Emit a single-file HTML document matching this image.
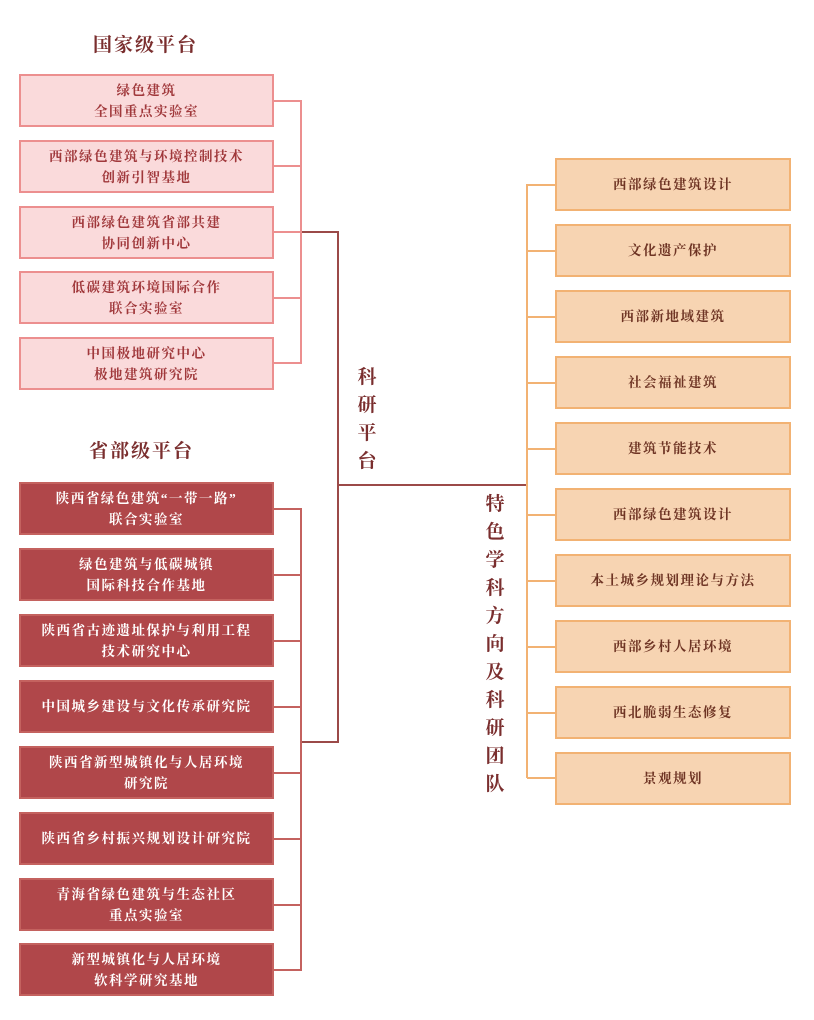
<!DOCTYPE html>
<html><head><meta charset="utf-8"><style>
body{margin:0;width:814px;height:1020px;background:#fff;position:relative;overflow:hidden;font-family:"Liberation Serif","Noto Serif CJK SC","Noto Sans CJK SC",serif;}
.b{position:absolute;box-sizing:border-box;display:flex;align-items:center;justify-content:center;text-align:center;font-size:13.5px;line-height:21px;letter-spacing:1.5px;font-weight:bold;}
.p{left:19px;width:255px;height:53px;background:#fadadb;border:2px solid #ec8f8f;color:#a0383b;}
.d{left:19px;width:255px;height:53px;background:#b0474a;border:2px solid #c4625f;color:#fff;}
.o{left:555px;width:236px;height:53px;background:#f7d4b2;border:2px solid #f2b273;color:#6e3424;}
.t{position:absolute;font-size:19px;font-weight:bold;color:#7a2e2e;letter-spacing:2px;}
.v{position:absolute;font-size:19px;font-weight:bold;color:#7a2e2e;width:24px;line-height:28px;text-align:center;}
.l{position:absolute;}
</style></head><body>
<div class="t" style="left:93px;top:30px">国家级平台</div>
<div class="t" style="left:89px;top:436px">省部级平台</div>

<!-- connectors -->
<div class="l" style="left:274px;top:100px;width:28px;height:2px;background:#ec8f8f"></div>
<div class="l" style="left:274px;top:165px;width:28px;height:2px;background:#ec8f8f"></div>
<div class="l" style="left:274px;top:231px;width:28px;height:2px;background:#ec8f8f"></div>
<div class="l" style="left:274px;top:297px;width:28px;height:2px;background:#ec8f8f"></div>
<div class="l" style="left:274px;top:362px;width:28px;height:2px;background:#ec8f8f"></div>
<div class="l" style="left:300px;top:100px;width:2px;height:264px;background:#ec8f8f"></div>
<div class="l" style="left:302px;top:231px;width:37px;height:2px;background:#9b4a48"></div>
<div class="l" style="left:337px;top:231px;width:2px;height:512px;background:#9b4a48"></div>
<div class="l" style="left:338px;top:484px;width:190px;height:2px;background:#9b4a48"></div>
<div class="l" style="left:302px;top:741px;width:37px;height:2px;background:#9b4a48"></div>

<div class="l" style="left:300px;top:508px;width:2px;height:462px;background:#c4625f"></div>
<div class="l" style="left:274px;top:508px;width:28px;height:2px;background:#c4625f"></div>
<div class="l" style="left:274px;top:574px;width:28px;height:2px;background:#c4625f"></div>
<div class="l" style="left:274px;top:640px;width:28px;height:2px;background:#c4625f"></div>
<div class="l" style="left:274px;top:706px;width:28px;height:2px;background:#c4625f"></div>
<div class="l" style="left:274px;top:772px;width:28px;height:2px;background:#c4625f"></div>
<div class="l" style="left:274px;top:838px;width:28px;height:2px;background:#c4625f"></div>
<div class="l" style="left:274px;top:904px;width:28px;height:2px;background:#c4625f"></div>
<div class="l" style="left:274px;top:969px;width:28px;height:2px;background:#c4625f"></div>

<div class="l" style="left:526px;top:184px;width:2px;height:594px;background:#f2b273"></div>
<div class="l" style="left:527px;top:184px;width:28px;height:2px;background:#f2b273"></div>
<div class="l" style="left:527px;top:250px;width:28px;height:2px;background:#f2b273"></div>
<div class="l" style="left:527px;top:316px;width:28px;height:2px;background:#f2b273"></div>
<div class="l" style="left:527px;top:382px;width:28px;height:2px;background:#f2b273"></div>
<div class="l" style="left:527px;top:448px;width:28px;height:2px;background:#f2b273"></div>
<div class="l" style="left:527px;top:514px;width:28px;height:2px;background:#f2b273"></div>
<div class="l" style="left:527px;top:580px;width:28px;height:2px;background:#f2b273"></div>
<div class="l" style="left:527px;top:646px;width:28px;height:2px;background:#f2b273"></div>
<div class="l" style="left:527px;top:712px;width:28px;height:2px;background:#f2b273"></div>
<div class="l" style="left:527px;top:777px;width:28px;height:2px;background:#f2b273"></div>

<div class="b p" style="top:74px">绿色建筑<br>全国重点实验室</div>
<div class="b p" style="top:140px">西部绿色建筑与环境控制技术<br>创新引智基地</div>
<div class="b p" style="top:206px">西部绿色建筑省部共建<br>协同创新中心</div>
<div class="b p" style="top:271px">低碳建筑环境国际合作<br>联合实验室</div>
<div class="b p" style="top:337px">中国极地研究中心<br>极地建筑研究院</div>

<div class="b d" style="top:482px">陕西省绿色建筑“一带一路”<br>联合实验室</div>
<div class="b d" style="top:548px">绿色建筑与低碳城镇<br>国际科技合作基地</div>
<div class="b d" style="top:614px">陕西省古迹遗址保护与利用工程<br>技术研究中心</div>
<div class="b d" style="top:680px">中国城乡建设与文化传承研究院</div>
<div class="b d" style="top:746px">陕西省新型城镇化与人居环境<br>研究院</div>
<div class="b d" style="top:812px">陕西省乡村振兴规划设计研究院</div>
<div class="b d" style="top:878px">青海省绿色建筑与生态社区<br>重点实验室</div>
<div class="b d" style="top:943px">新型城镇化与人居环境<br>软科学研究基地</div>

<div class="b o" style="top:158px">西部绿色建筑设计</div>
<div class="b o" style="top:224px">文化遗产保护</div>
<div class="b o" style="top:290px">西部新地域建筑</div>
<div class="b o" style="top:356px">社会福祉建筑</div>
<div class="b o" style="top:422px">建筑节能技术</div>
<div class="b o" style="top:488px">西部绿色建筑设计</div>
<div class="b o" style="top:554px">本土城乡规划理论与方法</div>
<div class="b o" style="top:620px">西部乡村人居环境</div>
<div class="b o" style="top:686px">西北脆弱生态修复</div>
<div class="b o" style="top:752px">景观规划</div>

<div class="v" style="left:355px;top:364px">科<br>研<br>平<br>台</div>
<div class="v" style="left:483px;top:491px">特<br>色<br>学<br>科<br>方<br>向<br>及<br>科<br>研<br>团<br>队</div>
</body></html>
